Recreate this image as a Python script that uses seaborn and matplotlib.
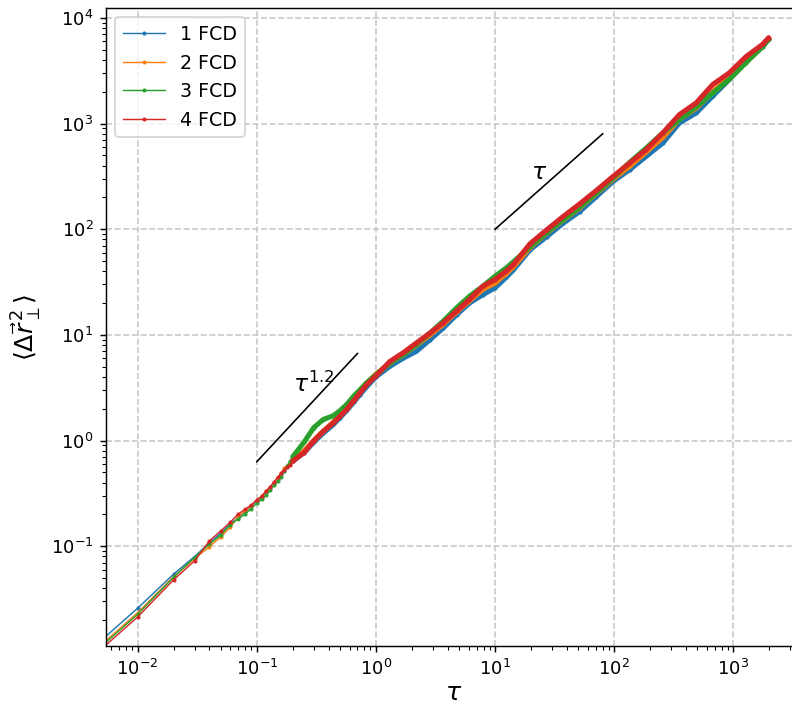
import numpy as np
import pandas as pd
import matplotlib
matplotlib.use("Agg")
import matplotlib.pyplot as plt
import seaborn as sns

# ---- data ----
tau = [0.0,
       0.01, 0.02, 0.03, 0.04, 0.05, 0.06, 0.07, 0.08, 0.09, 0.10,
       0.11, 0.12, 0.13, 0.14, 0.15, 0.16, 0.17, 0.18, 0.19, 0.20,
       0.25, 0.3, 0.36, 0.44, 0.5, 0.57, 0.65, 0.73, 0.83, 1.0,
       1.31, 1.69, 2.19, 2.84, 3.67, 4.75, 6.1, 7.9, 10, 12.4,
       14.2, 19.6, 27.1, 37.3, 51.4, 71, 97.8, 135, 186, 256,
       353, 488, 672, 927, 1277, 1760, 1980]

fcd1 = [0.0,
        0.0259, 0.0543, 0.0797, 0.107, 0.133, 0.163, 0.186, 0.213, 0.238, 0.27,
        0.29, 0.325, 0.355, 0.395, 0.435, 0.475, 0.52, 0.56, 0.60, 0.635,
        0.77, 0.96, 1.17, 1.42, 1.65, 1.93, 2.3, 2.7, 3.2, 4.0,
        5.05, 6.0, 7.0, 9.0, 11.6, 15.5, 20, 24, 27.9, 35,
        41, 63.7, 85, 114, 147, 204, 283, 366, 490, 655,
        1014, 1260, 1820, 2620, 3900, 5420, 6250]

fcd2 = [0.0,
        0.0235, 0.0515, 0.076, 0.099, 0.123, 0.151, 0.19, 0.218, 0.242, 0.275,
        0.30, 0.33, 0.36, 0.40, 0.44, 0.49, 0.55, 0.575, 0.60, 0.64,
        0.80, 1.0, 1.22, 1.5, 1.75, 2.0, 2.4, 2.85, 3.45, 4.25,
        5.4, 6.5, 8.0, 10.0, 12.6, 16.5, 21, 27, 31, 38,
        44, 67, 92, 122, 160, 218, 298, 395, 540, 740,
        1100, 1400, 2000, 2750, 4000, 5450, 6300]

fcd3 = [0.0,
        0.0227, 0.0508, 0.078, 0.105, 0.128, 0.160, 0.182, 0.201, 0.227, 0.255,
        0.277, 0.304, 0.34, 0.378, 0.41, 0.45, 0.52, 0.58, 0.64, 0.70,
        0.97, 1.32, 1.58, 1.72, 1.92, 2.2, 2.63, 3.0, 3.5, 4.2,
        5.4, 6.5, 8.1, 10.4, 13.5, 18, 23.2, 28.9, 35.9, 43,
        49, 68, 93, 123, 162, 220, 305, 430, 588, 815,
        1090, 1440, 1950, 2620, 3770, 5330, 6300]

fcd4 = [0.0,
        0.0214, 0.048, 0.0726, 0.112, 0.140, 0.169, 0.202, 0.224, 0.246, 0.275,
        0.297, 0.336, 0.367, 0.409, 0.45, 0.49, 0.53, 0.567, 0.59, 0.64,
        0.77, 0.99, 1.22, 1.47, 1.70, 1.98, 2.38, 2.8, 3.35, 4.1,
        5.6, 6.76, 8.4, 10.4, 13, 16.8, 21.6, 28.9, 33.4, 40,
        46, 72.6, 98.6, 132, 174, 233, 316, 423, 567, 815,
        1217, 1570, 2345, 3025, 4300, 5620, 6500]

series_names = ["1 FCD", "2 FCD", "3 FCD", "4 FCD"]
series_values = [fcd1, fcd2, fcd3, fcd4]

# reference power-law guide lines
guide12_x = [0.1, 0.7]
guide12_y = [0.63, 6.67]
guide1_x = [10, 80]
guide1_y = [100, 800]

# ---- figure ----
W, H, DPI = 792, 705, 130
fig = plt.figure(figsize=(W / DPI, H / DPI), dpi=DPI)
ax = fig.add_axes([106 / W, 59 / H, 694.5 / W, 638 / H])

colors = sns.color_palette("tab10", 4)
frames = []
for name, vals in zip(series_names, series_values):
    frames.append(pd.DataFrame({"tau": tau, "msd": vals, "series": name}))
df = pd.concat(frames, ignore_index=True)

for name, col in zip(series_names, colors):
    sub = df[df["series"] == name]
    sns.lineplot(data=sub, x="tau", y="msd", color=col, marker=".",
                 markersize=4.5, markeredgewidth=0, linewidth=0.8,
                 estimator=None, sort=False, label=name, ax=ax)
    dense = sub[sub["tau"] >= 0.2]
    sns.lineplot(data=dense, x="tau", y="msd", color=col, linewidth=2.8,
                 estimator=None, sort=False, legend=False, ax=ax,
                 solid_capstyle="round", solid_joinstyle="round")

sns.lineplot(x=guide12_x, y=guide12_y, color="black", linewidth=0.9,
             legend=False, ax=ax)
sns.lineplot(x=guide1_x, y=guide1_y, color="black", linewidth=0.9,
             legend=False, ax=ax)

ax.set_xscale("log")
ax.set_yscale("log")
ax.set_xlim(10 ** -2.266, 10 ** 3.564)
ax.set_ylim(10 ** -1.945, 10 ** 4.094)

ax.text(0.2, 2.9, r"$\tau^{1.2}$", fontsize=13)
ax.text(20, 300, r"$\tau$", fontsize=13)

ax.grid(True, which="major", linestyle="--", color="#c8c8c8", linewidth=0.9)
ax.set_axisbelow(True)
ax.set_xlabel(r"$\tau$", fontsize=14, labelpad=1)
ax.set_ylabel(r"$\langle \Delta \vec{r}_{\perp}^{\,2} \rangle$", fontsize=14)

leg = ax.legend(loc="upper left", handlelength=2.2, fontsize=10.5)

fig.savefig("out.png", dpi=DPI)
